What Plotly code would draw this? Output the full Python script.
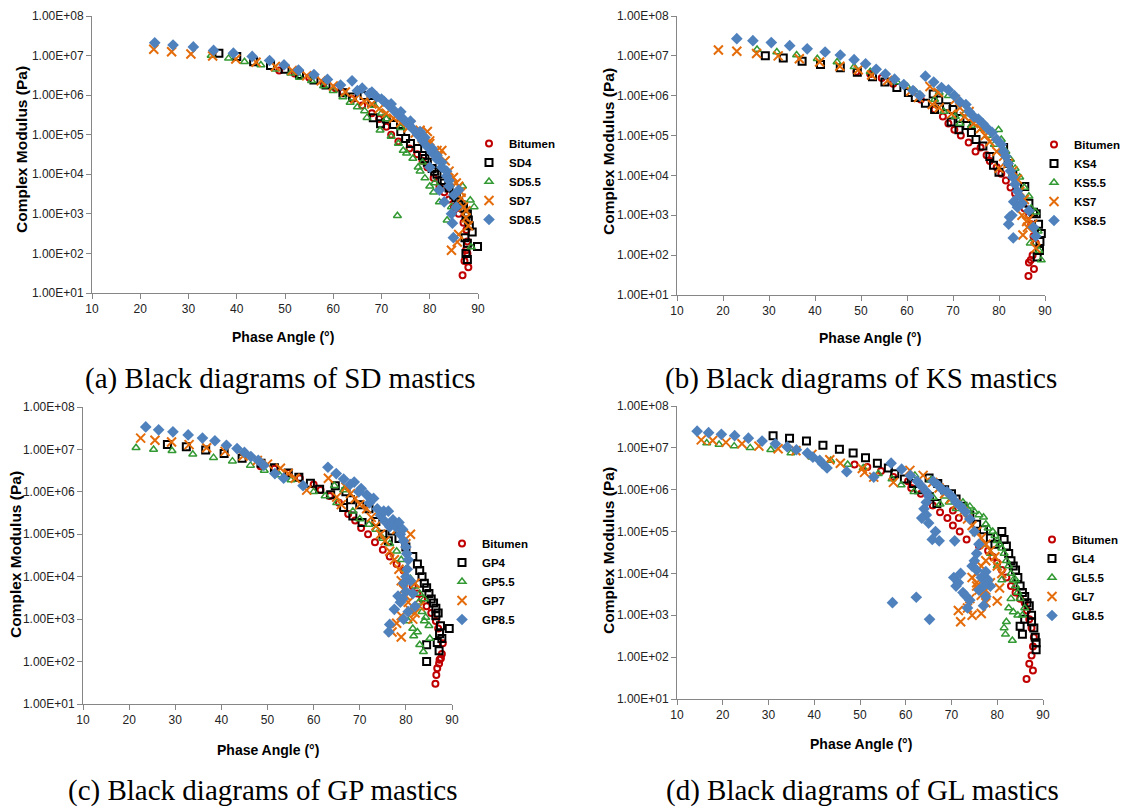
import plotly.graph_objects as go

# ---------------- data (phase angle in degrees, complex modulus in Pa) ----------------
# Panel (a) SD mastics
sd_bit_x = [48.8, 52, 55, 58, 60.5, 62, 64, 66, 68, 69.5, 71, 72, 73.5, 75.8, 77.4, 78.5, 79.5, 80.8, 82, 83, 84, 85, 86, 87, 87.6, 87.8, 87.5, 87.2, 88, 86.8, 87.8]
sd_bit_y = [4.2e6, 3.5e6, 2.8e6, 2.0e6, 1.5e6, 1.2e6, 8e5, 5.5e5, 3.5e5, 2.5e5, 1.6e5, 1.0e5, 6.7e4, 4.5e4, 3.2e4, 2.2e4, 1.5e4, 8e3, 5e3, 3.5e3, 2.3e3, 1.5e3, 1e3, 6e2, 3.9e2, 2e2, 1.2e2, 6.4e1, 4.5e1, 2.8e1, 1e2]
sd4_x = [36.3, 40, 43.5, 47, 50, 53, 56, 58.5, 62, 64, 66.4, 68, 68.3, 69.8, 71, 72.5, 74, 75, 76, 77.5, 78.5, 79.5, 80.5, 81.5, 82.5, 84, 85, 86, 87, 87.8, 88, 88.2, 88.8, 89.9, 87.8, 87.5, 87.8, 87.3, 79, 81, 83, 85.5, 86.5, 87.5]
sd4_y = [1.15e7, 9.5e6, 7e6, 5.6e6, 4.5e6, 3.3e6, 2.4e6, 1.8e6, 1.15e6, 9e5, 9.8e5, 6.5e5, 2.7e5, 1.9e5, 2.5e5, 1.8e5, 1.2e5, 8e4, 6e4, 4.5e4, 3e4, 2e4, 1.4e4, 1e4, 7e3, 4.5e3, 3e3, 2e3, 1.4e3, 1e3, 7e2, 5e2, 3.5e2, 1.5e2, 1.8e2, 1e2, 7e1, 2.5e2, 2.5e4, 1.2e4, 6e3, 2.5e3, 1.7e3, 9e2]
sd55_x = [34.7, 38.3, 41.6, 45, 48, 51.2, 53, 55.5, 58, 60, 62, 63.5, 65, 66.5, 67, 69.7, 71, 72, 73.5, 74.5, 75.2, 76.5, 77.6, 78, 79, 80, 80.8, 82, 83.6, 84.5, 86.8, 88.4, 89.2, 90.3, 90.3, 88.6, 73.3, 70, 68.5, 74, 78.5, 81]
sd55_y = [1.0e7, 8.5e6, 7e6, 5.8e6, 4.5e6, 3.6e6, 2.8e6, 2.3e6, 1.7e6, 1.3e6, 9e5, 6.5e5, 5e5, 4e5, 2.7e5, 1.3e5, 2.5e5, 9e4, 6e4, 4e4, 3.4e4, 2.5e4, 1.5e4, 1.2e4, 8e3, 5e3, 3.5e3, 2e3, 6.9e2, 1.5e3, 5e3, 2.2e3, 1.5e3, 3.5e2, 9.5e1, 1.45e2, 9e2, 3.5e5, 5.5e5, 1.5e5, 2e4, 6e3]
sd7_x = [22.8, 26.5, 30.5, 35, 39.8, 44, 48, 51.5, 54.5, 57.5, 60, 62.5, 64.5, 66.5, 68, 69.5, 71, 72.5, 74, 75.5, 77, 78.5, 80, 81.5, 83.2, 84.9, 86, 87, 85.7, 84.5, 86.5, 87.5, 82.5, 79.5, 73, 76, 78, 80, 82, 84, 85.5, 86.5, 87.5, 88, 86]
sd7_y = [1.45e7, 1.25e7, 1.1e7, 9.8e6, 8.2e6, 6.8e6, 5.3e6, 4.2e6, 3.1e6, 2.3e6, 1.7e6, 1.2e6, 8e5, 7e5, 6e5, 4.5e5, 3.5e5, 2.6e5, 2e5, 1.5e5, 1.1e5, 8e4, 6e4, 4e4, 2.2e4, 8.3e3, 5e3, 1.5e3, 1.95e2, 1.2e2, 2.5e3, 8e2, 4e4, 1.2e5, 3e5, 1.8e5, 1.3e5, 7e4, 3e4, 1.2e4, 6e3, 3.5e3, 1.2e3, 5e2, 3e2]
sd85_x = [23, 26.8, 31, 35.2, 39.3, 43.2, 46.8, 49.8, 52.8, 56, 58.8, 61.5, 63.9, 66, 65, 67.5, 69, 70.5, 71.5, 72.5, 73.5, 74.5, 75.5, 76.5, 77.5, 78.5, 79.5, 80.5, 81.5, 82.5, 83.5, 84, 84.7, 84.9, 83, 82, 80, 68, 70, 72, 74, 76, 78, 79, 80.5, 81.5, 82.5, 83.5, 84, 85, 85.5, 84.5, 86]
sd85_y = [2.1e7, 1.85e7, 1.65e7, 1.35e7, 1.15e7, 9.5e6, 7.5e6, 5.8e6, 4.3e6, 3.3e6, 2.5e6, 1.8e6, 2.3e6, 1.5e6, 1.3e6, 1.1e6, 9e5, 7e5, 5.5e5, 4.2e5, 3.2e5, 2.5e5, 1.9e5, 1.4e5, 1e5, 7e4, 5e4, 3.5e4, 2.4e4, 1.5e4, 9e3, 5e3, 5.8e2, 2.5e2, 2e3, 4e3, 1.5e4, 1.2e6, 8e5, 6e5, 3.8e5, 2.2e5, 1.2e5, 8.5e4, 4.5e4, 3e4, 2e4, 1.2e4, 7e3, 3e3, 1.5e3, 1e3, 4e3]

# Panel (b) KS mastics
ks_bit_x = [49, 52, 54.5, 57, 63, 66, 67.8, 69, 70.3, 71.7, 73.4, 74.9, 76, 77.3, 78, 79.5, 80.5, 81.5, 82.5, 83.5, 84.5, 85.5, 86.5, 87, 87.5, 88, 87.3, 86.5, 86.9, 87.6, 86.4]
ks_bit_y = [4e6, 3.5e6, 2.8e6, 2e6, 8e5, 4.5e5, 3e5, 2e5, 1.4e5, 1e5, 6.7e4, 4e4, 5e4, 3.2e4, 2.3e4, 1.6e4, 1.1e4, 7.5e3, 5e3, 3.5e3, 2.3e3, 1.5e3, 1e3, 6e2, 3e2, 2e2, 1e2, 6.5e1, 7.5e1, 4.5e1, 3e1]
ks4_x = [29.2, 33.1, 37.2, 41.2, 45.5, 49.2, 52.5, 55.2, 57.8, 60.3, 61.8, 64, 65.7, 66, 66.9, 68.6, 69.6, 70, 71.3, 71.5, 73, 74, 75, 76.5, 78, 78.8, 80, 81, 82, 83, 84, 85.6, 86.5, 87.5, 88.1, 88.6, 89.2, 88.9, 88.3, 88.8]
ks4_y = [1e7, 8.8e6, 7.3e6, 6.1e6, 5e6, 3.9e6, 3e6, 2.2e6, 1.6e6, 1.2e6, 9e5, 6.5e5, 1.1e6, 4.5e5, 7.8e5, 5.3e5, 2.2e5, 4.5e5, 1.4e5, 2.7e5, 1.8e5, 1.2e5, 8e4, 5.5e4, 3e4, 1.8e4, 1.2e4, 5e4, 2e4, 1e4, 5e3, 5.3e3, 2e3, 1.2e3, 1.1e3, 6e2, 3.5e2, 2.2e2, 9e1, 1.3e2]
ks55_x = [27.4, 31.7, 36, 40.5, 44.8, 48.5, 52, 57.8, 60, 62, 66, 67, 68, 69, 70.5, 71.5, 72.5, 74, 75.5, 76.5, 77.5, 79, 79.9, 80.5, 81.5, 82.5, 83.5, 84.5, 85.5, 86.5, 87, 88, 87.5, 86.8, 88.5, 89.2, 88.7]
ks55_y = [1.45e7, 1.25e7, 1.05e7, 8.5e6, 7e6, 5.3e6, 4e6, 2.2e6, 1.7e6, 1.2e6, 8e5, 1.2e6, 4e5, 1e6, 3e5, 2e5, 3.5e5, 1.8e5, 2.5e5, 1.5e5, 1e5, 6e4, 1.4e5, 8e4, 4e4, 2.5e4, 1.5e4, 9e3, 5e3, 3e3, 1.5e3, 1.2e3, 5e2, 2e2, 4e2, 7.5e1, 1.3e2]
ks7_x = [19, 23, 27.3, 32, 36.6, 41, 45.4, 49.4, 52.3, 55.8, 60.8, 62.5, 65, 65.5, 66.8, 67, 69.7, 70.5, 71.5, 72.5, 73.5, 74.5, 76, 77, 78, 79.5, 80, 81, 82, 83, 84, 84.5, 85.5, 85, 85.2, 86.2, 86.5, 87.3, 87.8, 88, 86]
ks7_y = [1.4e7, 1.3e7, 1.15e7, 1e7, 8.5e6, 7e6, 5.5e6, 4.5e6, 3.3e6, 2.4e6, 1.3e6, 9e5, 1.7e6, 6e5, 1.2e6, 5e5, 3.5e5, 8e5, 5e5, 3e5, 4e5, 2e5, 1.5e5, 1e5, 7e4, 4e4, 1.5e4, 3e4, 2e4, 1.3e4, 8e3, 4e3, 2.5e3, 1e3, 3.2e2, 5e2, 8e2, 6e2, 2.5e2, 1.5e2, 7e2]
ks85_x = [23, 26.5, 30.5, 34.5, 38.3, 42.2, 45.5, 48.5, 51, 53.3, 55.3, 57.3, 59.3, 61.3, 62.8, 64, 65.8, 67.5, 69, 70.3, 71.5, 72.8, 73.5, 74.5, 75.5, 76.5, 77.5, 78.5, 79.5, 80.5, 81, 81.5, 82, 82.5, 83, 83.5, 84, 84.5, 85, 83.2, 84, 82.8, 82.3, 82.1, 83.1, 86.5, 87.5, 88]
ks85_y = [2.7e7, 2.4e7, 2.15e7, 1.8e7, 1.5e7, 1.25e7, 1.05e7, 8e6, 6.3e6, 4.6e6, 3.5e6, 2.6e6, 1.9e6, 1.35e6, 1e6, 3.1e6, 2.2e6, 1.6e6, 1.4e6, 1e6, 7e5, 6e5, 4e5, 3e5, 2.6e5, 2e5, 1.5e5, 1.2e5, 8e4, 6e4, 4e4, 3e4, 2e4, 1.3e4, 9e3, 6e3, 4e3, 3e3, 2e3, 2.2e3, 1.6e3, 1e3, 9e2, 6e2, 2.7e2, 1.3e3, 5e2, 3e2]

# Panel (c) GP mastics
gp_bit_x = [48.5, 51.5, 54.5, 57, 60, 61.5, 63.5, 65.5, 67.5, 69, 70.3, 71.8, 73.3, 75, 76.5, 78, 79.5, 80.5, 81.5, 82.5, 83.5, 84.5, 85.5, 86.5, 87, 88, 87.8, 87.3, 86.8, 87.2, 86.6, 86.4, 87.6]
gp_bit_y = [4e6, 3.5e6, 2.8e6, 2.1e6, 1.5e6, 1.1e6, 8e5, 5.5e5, 3e5, 2.1e5, 1.4e5, 1e5, 6.5e4, 4.3e4, 3e4, 2e4, 1.4e4, 9e3, 6e3, 4e3, 3e3, 2e3, 1.4e3, 9e2, 6e2, 2.7e2, 1.5e2, 1.1e2, 7e1, 9e1, 4.8e1, 3e1, 1.2e2]
gp4_x = [28.3, 32.4, 36.6, 40.6, 44.5, 48.6, 51.5, 54.5, 56.8, 59.3, 61.3, 63.7, 64.7, 66.5, 67, 68, 68.5, 70, 70.5, 72, 73.5, 75, 76.2, 77, 78.5, 80, 81.5, 82.5, 83, 83.5, 84, 84.5, 85, 85.5, 86, 86.5, 87, 87.5, 87.3, 86.8, 87.2, 89.4, 84.5, 84.5, 86.5, 87.8]
gp4_y = [1.3e7, 1.15e7, 9.7e6, 8e6, 6.2e6, 4.7e6, 3.7e6, 2.8e6, 2.2e6, 1.6e6, 1.15e6, 8.5e5, 1.4e6, 4.3e5, 1e6, 6.5e5, 2.7e5, 5e5, 1.9e5, 4e5, 2e5, 1e5, 7e4, 1.2e5, 8e4, 5e4, 3e4, 2e4, 1.4e4, 1e4, 7e3, 5.5e3, 4e3, 3e3, 2.4e3, 1.8e3, 1.4e3, 7e2, 4.5e2, 2.8e2, 1.8e2, 6e2, 2.5e2, 1e2, 1.2e3, 3.5e2]
gp55_x = [21.5, 25.3, 29.3, 33.8, 38.3, 42.4, 46.3, 49.3, 52.6, 55.1, 60, 62.5, 64.5, 65, 66.5, 68.5, 70, 72, 73.5, 75, 76.5, 78, 79, 80, 81, 82, 83, 84, 81, 82, 82.8, 80.5, 81.5, 82.5, 81.7, 83, 83.8, 84, 84.3, 85, 85.2, 83.5]
gp55_y = [1.1e7, 1e7, 9.3e6, 7.7e6, 6.4e6, 5.3e6, 4.2e6, 3.2e6, 2.5e6, 1.9e6, 1e6, 8e5, 1.4e6, 5.5e5, 1.1e6, 3.5e5, 2.3e5, 1.7e5, 1.3e5, 8e4, 6e4, 4e4, 2.5e4, 1.5e4, 9e3, 6e3, 4e3, 3e3, 1.5e3, 2e3, 2.5e3, 9e2, 6e2, 5e2, 4e2, 2.5e2, 1.7e2, 9e2, 1.1e3, 7e2, 3.5e2, 1.5e3]
gp7_x = [22.5, 25.6, 29.2, 33, 36.8, 40.8, 44.7, 47.8, 50, 52.8, 54.5, 56, 58.5, 63.2, 65, 66, 67, 68, 69, 70, 71.5, 72.5, 73.5, 74.5, 75.5, 76.5, 77.5, 78.5, 79, 79.5, 80, 80.5, 81, 79, 78, 77, 79, 81.5, 82, 83, 82, 80, 81, 78]
gp7_y = [1.85e7, 1.65e7, 1.5e7, 1.3e7, 1.1e7, 9e6, 7e6, 5.5e6, 4.5e6, 3.6e6, 2.7e6, 2.1e6, 1.1e6, 2.1e6, 7.5e5, 5e5, 1.3e6, 9e5, 7e5, 5e5, 4e5, 2.5e5, 1.6e5, 1e5, 7e4, 4e4, 2.5e4, 1.5e4, 8e3, 5e3, 3.5e3, 2.5e3, 1.6e3, 1.2e3, 8e2, 5e2, 3.8e2, 1e3, 1.4e3, 2e3, 7e3, 6e4, 1e5, 1.3e5]
gp85_x = [23.6, 26.4, 29.5, 32.8, 35.9, 38.6, 41.1, 43.4, 45, 46.4, 48, 49.2, 51.6, 53.5, 57.7, 63.1, 64.9, 66.5, 67.9, 68.8, 69.8, 70.3, 71.5, 72.1, 73, 73.8, 74.5, 75.2, 75.5, 76.2, 76.5, 77.2, 77.8, 78.5, 78.8, 79.3, 79.5, 80, 80.2, 80.5, 80.3, 80, 79.5, 80, 79.3, 78.8, 78.3, 77.5, 79.5, 80.5, 76.5, 76.3, 81.5, 82, 81]
gp85_y = [3.4e7, 2.9e7, 2.6e7, 2.2e7, 1.85e7, 1.6e7, 1.25e7, 1.05e7, 8.5e6, 6.8e6, 5.5e6, 4.2e6, 2.7e6, 2.1e6, 1.4e6, 3.8e6, 2.7e6, 2e6, 1.5e6, 1.7e6, 1e6, 1.2e6, 8.5e5, 5.5e5, 7e5, 4e5, 2.8e5, 3.5e5, 2e5, 3.5e5, 1.5e5, 2.2e5, 1.5e5, 1.9e5, 1e5, 1.3e5, 7e4, 5e4, 3.5e4, 2.5e4, 1.5e4, 1e4, 7e3, 4.5e3, 3e3, 2.5e3, 3.5e3, 1.7e3, 1e3, 1.5e3, 7.5e2, 5e2, 4e3, 2e3, 8e3]

# Panel (d) GL mastics
gl_bit_x = [48.8, 51.6, 54.6, 57.3, 60.5, 61.2, 63.3, 65.9, 67.5, 69.1, 70.3, 70.3, 71.6, 71.8, 73.3, 76, 78, 79, 80, 81, 82, 83, 84, 85, 86, 86.5, 87, 87.5, 88, 87.8, 87.5, 87, 87.8, 86.4]
gl_bit_y = [4e6, 3.5e6, 2.8e6, 2e6, 1.6e6, 1.1e6, 8e5, 4.2e5, 2.9e5, 2.1e5, 1.4e5, 3.2e5, 2.1e5, 1e5, 6.5e4, 4.5e4, 3.5e4, 2.5e4, 1.8e4, 1.2e4, 8e3, 5e3, 3.5e3, 2.5e3, 2e3, 1.3e3, 8e2, 5e2, 3e2, 1.8e2, 1.1e2, 7e1, 4.8e1, 3e1]
gl4_x = [31, 34.6, 38.3, 41.9, 45.5, 48.5, 51.2, 53.8, 56.2, 57.6, 59.7, 61.7, 62.8, 65.2, 65.1, 66.8, 67, 68.5, 70, 71, 72.5, 74, 75.5, 77, 78.5, 79.5, 81, 81.5, 82, 82.5, 83, 83.5, 84, 84.5, 85, 85.5, 86, 86.5, 87, 87.5, 87.5, 88, 88.3, 88.5, 88.5, 85, 85.5, 86]
gl4_y = [1.95e7, 1.7e7, 1.45e7, 1.15e7, 9.3e6, 7.5e6, 5.8e6, 4.3e6, 3.3e6, 2.4e6, 1.8e6, 1.4e6, 1e6, 6.8e5, 1.9e6, 4.7e5, 1.4e6, 1e6, 8e5, 6e5, 4e5, 2.5e5, 1.5e5, 1.1e5, 7e4, 5e4, 1e5, 6.5e4, 4.5e4, 3e4, 2e4, 1.5e4, 1.2e4, 8e3, 5e3, 3.5e3, 2.8e3, 2e3, 1.7e3, 1e3, 7e2, 5e2, 3e2, 2.2e2, 1.5e2, 5.5e2, 3.5e2, 8e2]
gl55_x = [16.5, 19.2, 22.5, 26, 30.5, 34.9, 39.5, 43.6, 47.3, 50.7, 54, 57, 59, 61.8, 62, 65.5, 66, 67.5, 68.5, 69.5, 71, 72.5, 73.5, 74, 75, 76, 77, 77.5, 78, 79, 79.5, 80, 80.5, 81, 81.5, 82, 82.5, 83, 83.5, 84, 84.5, 85, 83, 82.5, 83.5, 84.5, 82, 81.5, 81.8, 83.3, 85.5, 86, 84, 81, 80, 78.5, 77]
gl55_y = [1.3e7, 1.2e7, 1.1e7, 1e7, 9e6, 7.5e6, 6e6, 5e6, 4e6, 3.3e6, 2.4e6, 1.8e6, 1.3e6, 9e5, 2.2e6, 1.7e6, 6.5e5, 4.5e5, 7e5, 5e5, 3.5e5, 5e5, 3.5e5, 4e5, 3e5, 2.5e5, 2.2e5, 1.5e5, 1.2e5, 1e5, 8e4, 6e4, 5e4, 4e4, 3e4, 2e4, 1.5e4, 1e4, 7e3, 5e3, 3.5e3, 2.5e3, 2.5e3, 1.5e3, 1.2e3, 1e3, 7e2, 5e2, 3.5e2, 2.5e2, 1e3, 1.5e3, 7e3, 7e3, 1.5e4, 3e4, 5e4]
gl7_x = [15.3, 17.8, 20.7, 24.2, 27.9, 32.1, 36, 39.5, 43.4, 45.7, 50.5, 51, 53, 57.3, 60.9, 63.8, 65.9, 67.3, 68.5, 69.8, 71, 72.5, 73.5, 74.5, 75.5, 76.5, 77.5, 78.5, 79.5, 80, 81, 80.5, 80, 78.5, 77.5, 76.5, 75.5, 74.5, 75.5, 76.5, 77.5, 74, 73.5, 74.5, 76.5, 77.5, 71.5, 72, 75.5, 76]
gl7_y = [1.55e7, 1.5e7, 1.35e7, 1.25e7, 1.1e7, 9.5e6, 8.5e6, 7e6, 5.2e6, 4.3e6, 3.2e6, 2.6e6, 2e6, 1.5e6, 2.9e6, 2.2e6, 1.5e6, 1.1e6, 8e5, 6e5, 4.5e5, 3e5, 2e5, 1.4e5, 1e5, 7e4, 5e4, 3.5e4, 2.5e4, 1.5e4, 1e4, 4.5e3, 2.2e3, 6e3, 4e3, 3e3, 5e3, 8e3, 1e4, 1.5e4, 2e4, 2.5e3, 1.5e3, 1e3, 1.1e3, 2e3, 1.3e3, 7e2, 6e3, 4e3]
gl85_x = [14.4, 16.9, 19.7, 22.6, 25.6, 28.6, 31.5, 34.1, 36.1, 38.5, 39.7, 41.2, 41.8, 42.8, 47.1, 53, 56.8, 59.1, 61, 62.5, 63.5, 64.5, 65, 64.5, 64, 63.5, 64.5, 65, 66.5, 65.8, 67.3, 70.7, 70.5, 71, 71.5, 72, 72.5, 73, 73.5, 74, 57.1, 62.3, 65.2, 77, 77.5, 78.5, 74.5, 75, 75.5, 76, 75, 74, 73, 72, 71, 70, 69, 68, 67, 66, 75.5, 76.5, 77.5, 78, 77, 76]
gl85_y = [2.5e7, 2.3e7, 2.1e7, 1.95e7, 1.7e7, 1.45e7, 1.25e7, 1.05e7, 9e6, 7.5e6, 6e6, 5e6, 4.2e6, 3.3e6, 2.7e6, 2e6, 4.3e6, 3.1e6, 2.2e6, 1.6e6, 1.2e6, 9e5, 7e5, 5e5, 3.5e5, 2.1e5, 2.5e5, 1.6e5, 1e5, 6.5e4, 6e4, 6e4, 8e3, 5e3, 6e3, 1e4, 3.5e3, 3e3, 1.5e3, 2.3e3, 2e3, 2.7e3, 8e2, 1.7e3, 2.8e3, 5e3, 1.5e4, 2e4, 3e4, 5e4, 1e5, 2e5, 3e5, 4e5, 5e5, 7e5, 9e5, 1e6, 1.3e6, 1.6e6, 1.2e4, 8e3, 1.1e4, 7e3, 5e3, 4e3]

panels = [
    ("Bitumen", "SD4", "SD5.5", "SD7", "SD8.5"),
    ("Bitumen", "KS4", "KS5.5", "KS7", "KS8.5"),
    ("Bitumen", "GP4", "GP5.5", "GP7", "GP8.5"),
    ("Bitumen", "GL4", "GL5.5", "GL7", "GL8.5"),
]
panel_data = [
    [(sd_bit_x, sd_bit_y), (sd4_x, sd4_y), (sd55_x, sd55_y), (sd7_x, sd7_y), (sd85_x, sd85_y)],
    [(ks_bit_x, ks_bit_y), (ks4_x, ks4_y), (ks55_x, ks55_y), (ks7_x, ks7_y), (ks85_x, ks85_y)],
    [(gp_bit_x, gp_bit_y), (gp4_x, gp4_y), (gp55_x, gp55_y), (gp7_x, gp7_y), (gp85_x, gp85_y)],
    [(gl_bit_x, gl_bit_y), (gl4_x, gl4_y), (gl55_x, gl55_y), (gl7_x, gl7_y), (gl85_x, gl85_y)],
]
captions = ["(a) Black diagrams of SD mastics", "(b) Black diagrams of KS mastics",
            "(c) Black diagrams of GP mastics", "(d) Black diagrams of GL mastics"]
y_tickvals = [1e1, 1e2, 1e3, 1e4, 1e5, 1e6, 1e7, 1e8]
y_ticktext = ["1.00E+01", "1.00E+02", "1.00E+03", "1.00E+04", "1.00E+05", "1.00E+06", "1.00E+07", "1.00E+08"]
x_tickvals = [10, 20, 30, 40, 50, 60, 70, 80, 90]

# ---------------- styling / layout ----------------
W, H = 1136, 809
OFF = 8  # page body margin of the browser


def px(x):
    return (x - OFF) / W


def py(y):
    return 1 - (y - OFF) / H


styles = [
    dict(symbol="circle-open", color="#C00000", size=6, line=dict(width=2, color="#C00000")),
    dict(symbol="square-open", color="#000000", size=7, line=dict(width=2, color="#000000")),
    dict(symbol="triangle-up-open", color="#339933", size=7, line=dict(width=1.5, color="#339933")),
    dict(symbol="x-thin-open", color="#E46C0A", size=9, line=dict(width=2, color="#E46C0A")),
    dict(symbol="diamond", color="#4F81BD", size=9, line=dict(width=0)),
]
# plot-area pixel boxes in the photographed page: (x_left, x_right, y_top, y_bottom)
boxes = [(92, 478, 16, 293), (677, 1045, 16, 295), (83, 452, 407, 704), (677, 1043, 406, 699)]
legend_pos = [(469, 129), (1034, 130), (442, 529), (1032, 525)]
xtitle_pos = [(283, 337), (870, 338), (268, 750), (861, 744)]
ytitle_pos = [(22, 150), (608, 152), (15, 555), (608, 551)]
caption_pos = [(280, 378), (861, 378), (263, 790), (862, 790)]

fig = go.Figure()
layout = dict(width=W, height=H, margin=dict(l=0, r=0, t=0, b=0, autoexpand=False),
              paper_bgcolor="white", plot_bgcolor="white", annotations=[])
axfont = dict(family="Liberation Sans, Arial, sans-serif", size=12, color="#222222")

for p in range(4):
    xl, xr, yt, yb = boxes[p]
    sfx = "" if p == 0 else str(p + 1)
    legname = "legend" if p == 0 else "legend" + str(p + 1)
    for s in range(5):
        xs, ys = panel_data[p][s]
        fig.add_trace(go.Scatter(x=xs, y=ys, mode="markers", name=panels[p][s],
                                 marker=styles[s], xaxis="x" + sfx, yaxis="y" + sfx,
                                 legend=legname, cliponaxis=False))
    layout["xaxis" + sfx] = dict(domain=[px(xl), px(xr)], range=[10, 90], anchor="y" + sfx,
                                 tickvals=x_tickvals, showgrid=False, zeroline=False,
                                 showline=True, linecolor="#868686", linewidth=1,
                                 ticks="outside", ticklen=5, tickcolor="#868686",
                                 tickfont=axfont, automargin=False)
    layout["yaxis" + sfx] = dict(domain=[py(yb), py(yt)], type="log", range=[1, 8],
                                 anchor="x" + sfx, tickvals=y_tickvals, ticktext=y_ticktext,
                                 showgrid=False, zeroline=False, showline=True,
                                 linecolor="#868686", linewidth=1, ticks="outside",
                                 ticklen=5, tickcolor="#868686", tickfont=axfont,
                                 automargin=False)
    lx, ly = legend_pos[p]
    layout[legname] = dict(x=px(lx), y=py(ly), xanchor="left", yanchor="top",
                           bgcolor="rgba(0,0,0,0)", tracegroupgap=0, itemwidth=30,
                           font=dict(family="Liberation Sans, Arial, sans-serif", size=11.5,
                                     color="#000000", weight="bold"))
    tx, ty = xtitle_pos[p]
    layout["annotations"].append(dict(text="<b>Phase Angle (°)</b>", x=px(tx), y=py(ty),
                                      xref="paper", yref="paper", showarrow=False,
                                      xanchor="center", yanchor="middle",
                                      font=dict(family="Liberation Sans, Arial, sans-serif",
                                                size=14, color="#000000")))
    tx, ty = ytitle_pos[p]
    layout["annotations"].append(dict(text="<b>Complex Modulus (Pa)</b>", x=px(tx), y=py(ty),
                                      xref="paper", yref="paper", showarrow=False, textangle=-90,
                                      xanchor="center", yanchor="middle",
                                      font=dict(family="Liberation Sans, Arial, sans-serif",
                                                size=15.5, color="#000000")))
    tx, ty = caption_pos[p]
    layout["annotations"].append(dict(text=captions[p], x=px(tx), y=py(ty),
                                      xref="paper", yref="paper", showarrow=False,
                                      xanchor="center", yanchor="middle",
                                      font=dict(family="Liberation Serif, Times New Roman, serif",
                                                size=29, color="#000000")))

fig.update_layout(**layout)
fig.write_html("out.html")
